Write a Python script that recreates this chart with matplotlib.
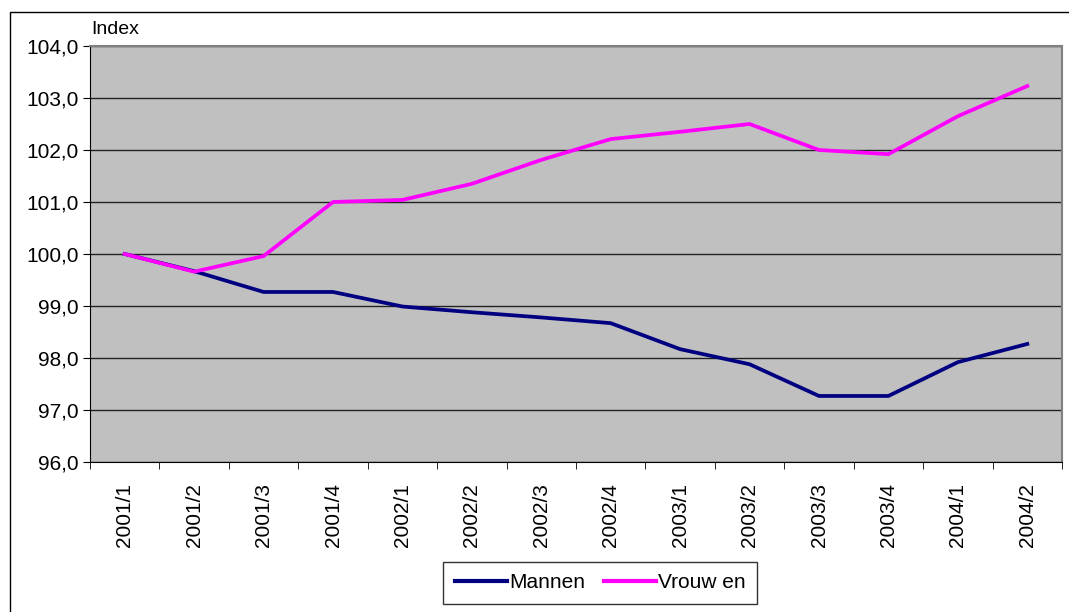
import matplotlib

matplotlib.use("Agg")
import matplotlib.pyplot as plt
from matplotlib.patches import Rectangle
from matplotlib.ticker import FixedLocator, FuncFormatter

plt.rcParams["font.family"] = ["Liberation Sans", "DejaVu Sans"]

quarters = [
    "2001/1", "2001/2", "2001/3", "2001/4",
    "2002/1", "2002/2", "2002/3", "2002/4",
    "2003/1", "2003/2", "2003/3", "2003/4",
    "2004/1", "2004/2",
]
mannen = [100.0, 99.67, 99.27, 99.27, 98.99, 98.88, 98.78, 98.67,
          98.17, 97.88, 97.27, 97.27, 97.92, 98.27]
vrouwen = [100.0, 99.66, 99.96, 101.0, 101.04, 101.35, 101.81, 102.21,
           102.35, 102.5, 102.0, 101.92, 102.65, 103.23]

W, H = 1069, 612
fig = plt.figure(figsize=(W / 100, H / 100), dpi=100)

# outer chart frame (top and left edges visible)
fig.patches.append(Rectangle((10 / W, -0.1), 1.2, 1 - 12 / H + 0.1,
                             transform=fig.transFigure, fill=False,
                             edgecolor="black", linewidth=1.0))

ax = fig.add_axes([90 / W, 1 - 462 / H, 972 / W, 416 / H])
ax.set_facecolor("#c0c0c0")

x = list(range(len(quarters)))
ax.plot(x, mannen, color="#000080", linewidth=2.7, label="Mannen",
        solid_joinstyle="round")
ax.plot(x, vrouwen, color="#ff00ff", linewidth=2.7, label="Vrouw en",
        solid_joinstyle="round")

ax.set_xlim(-0.5, len(quarters) - 0.5)
ax.set_ylim(96, 104)
ax.set_yticks([96, 97, 98, 99, 100, 101, 102, 103, 104])
ax.yaxis.set_major_formatter(FuncFormatter(lambda v, p: f"{v:.1f}".replace(".", ",")))
ax.grid(axis="y", color="#222222", linewidth=1.0)
ax.set_axisbelow(True)

ax.set_xticks(x)
ax.set_xticklabels(quarters, rotation=90, fontsize=15)
ax.xaxis.set_minor_locator(FixedLocator([i + 0.5 for i in range(-1, len(quarters))]))
ax.tick_params(axis="x", which="major", length=0, pad=15)
ax.tick_params(axis="x", which="minor", length=5, color="black")
ax.tick_params(axis="y", length=5, labelsize=15, pad=3)

for side in ("left", "bottom"):
    ax.spines[side].set_color("black")
for side in ("top", "right"):
    ax.spines[side].set_color("#808080")
    ax.spines[side].set_linewidth(1.5)

fig.text(91 / W, 1 - 30 / H, "Index", fontsize=14, ha="left", va="center")

leg = fig.legend(loc="center", bbox_to_anchor=(600 / W, 1 - 583 / H),
                 ncol=2, fontsize=15, frameon=True, fancybox=False,
                 handlelength=2.5, handletextpad=0.1, columnspacing=0.9,
                 borderpad=0.55, borderaxespad=0.2)
leg.get_frame().set_edgecolor("black")
leg.get_frame().set_linewidth(1.0)
for line in leg.get_lines():
    line.set_linewidth(3.0)

fig.savefig("out.png", dpi=100)
